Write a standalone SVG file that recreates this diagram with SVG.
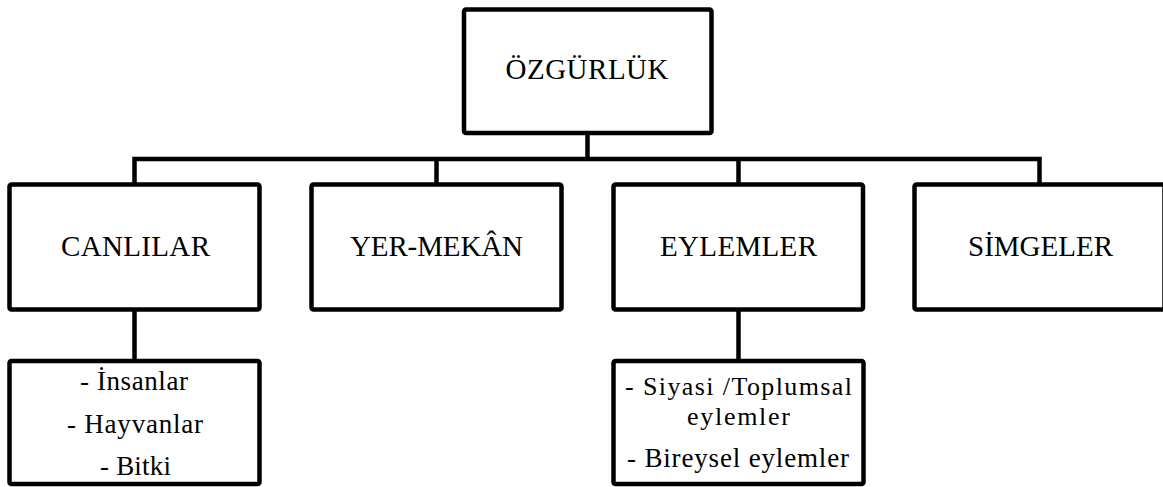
<svg xmlns="http://www.w3.org/2000/svg" width="1163" height="487" viewBox="0 0 1163 487">
<style>
.box{fill:#fff;stroke:#000;stroke-width:4.5}
.con{fill:none;stroke:#000;stroke-width:4.5;stroke-linejoin:miter}
.t{font-family:"Liberation Serif","Times New Roman",serif;font-size:29px;fill:#000;text-anchor:middle}
.s{font-family:"Liberation Serif","Times New Roman",serif;font-size:27px;fill:#000;text-anchor:middle}
.s2{font-family:"Liberation Serif","Times New Roman",serif;font-size:26px;fill:#000;text-anchor:middle}
</style>
<rect width="1163" height="487" fill="#fff"/>
<g id="connectors">
<line class="con" x1="587.5" y1="133" x2="587.5" y2="159"/>
<polyline class="con" points="134.5,184.5 134.5,159 1039.5,159 1039.5,184.5"/>
<line class="con" x1="436.5" y1="159" x2="436.5" y2="184.5"/>
<line class="con" x1="738.5" y1="159" x2="738.5" y2="184.5"/>
<line class="con" x1="134.5" y1="309.5" x2="134.5" y2="361"/>
<line class="con" x1="738.5" y1="309.5" x2="738.5" y2="361"/>
</g>
<g id="ozgurluk">
<rect class="box" x="464" y="9.5" width="247.5" height="123.5" rx="2"/>
<text class="t" x="587" y="79" textLength="163" lengthAdjust="spacing">ÖZGÜRLÜK</text>
</g>
<g id="canlilar">
<rect class="box" x="9.5" y="184.5" width="250" height="125" rx="2"/>
<text class="t" x="135.5" y="256" textLength="149" lengthAdjust="spacing">CANLILAR</text>
</g>
<g id="yer-mekan">
<rect class="box" x="311.5" y="184.5" width="250" height="125" rx="2"/>
<text class="t" x="436.5" y="256" textLength="173" lengthAdjust="spacing">YER-MEKÂN</text>
</g>
<g id="eylemler">
<rect class="box" x="613.5" y="184.5" width="249.5" height="125" rx="2"/>
<text class="t" x="738.5" y="256" textLength="157" lengthAdjust="spacing">EYLEMLER</text>
</g>
<g id="simgeler">
<rect class="box" x="914.5" y="184.5" width="250" height="125" rx="2"/>
<text class="t" x="1040.5" y="256" textLength="145" lengthAdjust="spacing">SİMGELER</text>
</g>
<g id="canlilar-list">
<rect class="box" x="9.5" y="361" width="250" height="123" rx="2"/>
<text class="s" x="134" y="390" textLength="108" lengthAdjust="spacing">- İnsanlar</text>
<text class="s" x="135" y="433" textLength="136" lengthAdjust="spacing">- Hayvanlar</text>
<text class="s" x="135.5" y="475" textLength="71" lengthAdjust="spacing">- Bitki</text>
</g>
<g id="eylemler-list">
<rect class="box" x="613.5" y="361" width="250" height="123" rx="2"/>
<text class="s2" x="738.5" y="395" textLength="227" lengthAdjust="spacing">- Siyasi /Toplumsal</text>
<text class="s2" x="738.5" y="425" textLength="103" lengthAdjust="spacing">eylemler</text>
<text class="s" x="738" y="467" textLength="222" lengthAdjust="spacing">- Bireysel eylemler</text>
</g>
</svg>
